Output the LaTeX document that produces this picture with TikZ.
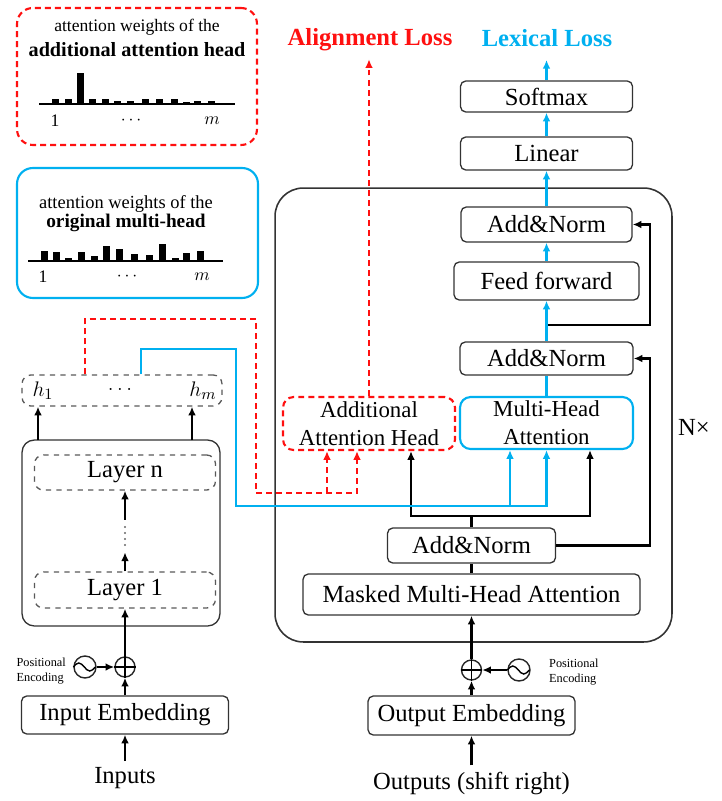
\documentclass[tikz,border=0pt]{standalone}
\usepackage{fontspec}
\setmainfont{Liberation Serif}
\usetikzlibrary{arrows.meta}
\definecolor{lexblue}{RGB}{0,176,240}
\definecolor{alnred}{RGB}{255,16,16}

\begin{document}
\begin{tikzpicture}[x=0.02cm,y=-0.02cm,>={Latex[length=5pt,width=4.4pt]},
  box/.style={draw=black!80,line width=0.75pt,rounded corners=3pt,inner sep=0pt,align=center,font=\fontsize{14}{16}\selectfont},
  dbox/.style={box,draw=black!65,dashed,rounded corners=5pt},
  sumnode/.style={draw=black!85,circle,line width=0.8pt,minimum size=0.4cm,inner sep=0pt},
  wavenode/.style={draw=black!85,circle,line width=0.8pt,minimum size=0.44cm,inner sep=0pt},
  wire/.style={line width=1.3pt},
  bluewire/.style={line width=1.2pt,draw=lexblue},
  redwire/.style={line width=1.2pt,draw=alnred,dash pattern=on 3.4pt off 2.3pt},
  small/.style={font=\fontsize{7}{8.5}\selectfont,align=left},
  label/.style={font=\fontsize{14}{16}\selectfont}]

\useasboundingbox (0,0) rectangle (721,801);

% Legend of the additional head
\node[draw=alnred,line width=1.2pt,dash pattern=on 3.4pt off 2.3pt,rounded corners=9pt,minimum width=4.8cm,minimum height=2.74cm] (legred) at (137,76.5) {};
\node[font=\fontsize{10}{12}\selectfont] (legredA) at (137,27) {attention weights of the};
\node[font=\fontsize{11.5}{13}\selectfont\bfseries] (legredB) at (137,50) {additional attention head};
\draw[line width=1.2pt] (39,104) -- (235,104);
\foreach \a/\h in {52/5,65/5,77/31,89/5,102/5,114/3.5,127/3.5,142/5,156/5,171/5,183/2,194/3.5,208/3.5}
  \fill (\a,104) rectangle ({\a+6.5},{104-\h});
\node[font=\fontsize{10}{12}\selectfont] (redone) at (55,121) {1};
\node[font=\fontsize{10}{12}\selectfont] (reddots) at (131,121) {$\cdots$};
\node[font=\fontsize{10}{12}\selectfont] (redm) at (212,121) {$m$};

% Legend of the original heads
\node[draw=lexblue,line width=1.2pt,rounded corners=9pt,minimum width=4.82cm,minimum height=2.6cm] (legblue) at (137.5,233) {};
\node[font=\fontsize{10.5}{12}\selectfont] (legblueA) at (126,204) {attention weights of the};
\node[font=\fontsize{11}{13}\selectfont\bfseries] (legblueB) at (126,223) {original multi-head};
\draw[line width=1.2pt] (28,260.7) -- (223,260.7);
\foreach \a/\h in {41/9.3,53/9,65/2.3,78/8.7,91/4.7,103/14.7,116/12,131/6.3,146/5.7,159/16.7,172/2.3,183/7.3,197/10}
  \fill (\a,260.7) rectangle ({\a+6.5},{260.7-\h});
\node[font=\fontsize{10}{12}\selectfont] (blueone) at (43,277) {1};
\node[font=\fontsize{10}{12}\selectfont] (bluedots) at (127,277) {$\cdots$};
\node[font=\fontsize{10}{12}\selectfont] (bluem) at (202,277) {$m$};

% Encoder
\node[box,rounded corners=7pt,minimum width=3.96cm,minimum height=3.72cm] (enc) at (121,533) {};
\node[dbox,minimum width=3.62cm,minimum height=0.7cm] (layern) at (125,472.5) {Layer n};
\node[inner sep=0pt,minimum height=0.64cm,minimum width=0.1cm] (vdots) at (125,536) {};
\foreach \y in {527,533,539,545}
  \fill[black!60] (125,\y) circle (0.6pt);
\node[dbox,minimum width=3.62cm,minimum height=0.72cm] (layerone) at (125,590) {Layer 1};
\node[dbox,minimum width=4cm,minimum height=0.62cm] (hbox) at (122,390.5) {};
\node[font=\fontsize{13}{15}\selectfont] (hone) at (43,391) {$h_1$};
\node[font=\fontsize{13}{15}\selectfont] (hdots) at (120,389) {$\ldots$};
\node[font=\fontsize{13}{15}\selectfont] (hm) at (203,391) {$h_m$};
\coordinate (hl) at (38,440);
\coordinate (hr) at (192,440);
\draw[wire,->] (hl) -- (hl |- hbox.south);
\draw[wire,->] (hr) -- (hr |- hbox.south);

% Encoder input
\node[box,minimum width=4.14cm,minimum height=0.76cm] (inemb) at (125,715) {Input Embedding};
\node[sumnode] (insum) at (125,667) {};
\draw[line width=0.8pt] (insum.north) -- (insum.south) (insum.west) -- (insum.east);
\node[wavenode] (inpe) at (85,667) {};
\draw[line width=0.8pt] (inpe.west) sin ++(5.5,-4) cos ++(5.5,4) sin ++(5.5,4) cos ++(5.5,-4);
\node[small,anchor=east] (inpetxt) at (72,671) {Positional\\Encoding};
\node[label] (inputs) at (125,778) {Inputs};
\draw[wire,->] (inpe.east) -- (insum.west);
\draw[wire,->] (inputs.north) -- (inemb.south);
\draw[wire,->] (inemb.north) -- (insum.south);
\draw[wire,->] (insum.north) -- (layerone.south);
\draw[wire,->] (layerone.north) -- (vdots.south);
\draw[wire,->] (vdots.north) -- (layern.south);

% Decoder
\node[box,rounded corners=16pt,line width=0.9pt,minimum width=7.94cm,minimum height=9.08cm] (dec) at (473.5,415) {};
\node[label] (nx) at (694,427) {N×};
\node[box,minimum width=6.74cm,minimum height=0.82cm] (mmha) at (471.5,594.5) {Masked Multi-Head Attention};
\node[box,minimum width=3.36cm,minimum height=0.7cm] (anone) at (471.5,545.5) {Add\&Norm};
\node[box,draw=alnred,line width=1.2pt,dash pattern=on 3.4pt off 2.3pt,rounded corners=6pt,minimum width=3.44cm,minimum height=1.06cm,font=\fontsize{13}{16}\selectfont] (aah) at (369,423.5) {Additional\\Attention Head};
\node[box,draw=lexblue,line width=1.2pt,rounded corners=6pt,minimum width=3.46cm,minimum height=1.04cm,font=\fontsize{13}{16}\selectfont] (mha) at (546.5,423) {Multi-Head\\Attention};
\node[box,minimum width=3.46cm,minimum height=0.66cm] (antwo) at (546.5,358.5) {Add\&Norm};
\node[box,minimum width=3.7cm,minimum height=0.76cm] (ff) at (546.5,281) {Feed forward};
\node[box,minimum width=3.42cm,minimum height=0.7cm] (anthree) at (546.5,224.5) {Add\&Norm};
\node[box,minimum width=3.44cm,minimum height=0.66cm] (lin) at (546.5,153.5) {Linear};
\node[box,minimum width=3.44cm,minimum height=0.62cm] (soft) at (546.5,96.5) {Softmax};
\node[label,font=\fontsize{14}{16}\selectfont\bfseries,text=lexblue] (lexloss) at (547,38) {Lexical Loss};
\node[label,font=\fontsize{14}{16}\selectfont\bfseries,text=alnred] (alnloss) at (370,40) {Alignment Loss};

% Decoder connectors
\coordinate (bus) at (471.5,516);
\coordinate (busl) at (411,516);
\coordinate (busr) at (590,516);
\coordinate (resone) at (650,545.5);
\coordinate (ffsplit) at (546.5,325);
\coordinate (restwo) at (650,325);
\draw[wire] (mmha.north) -- (anone.south);
\draw[wire] (anone.north) -- (bus);
\draw[wire,->] (bus) -| (aah.south -| busl);
\draw[wire,->] (bus) -| (mha.south -| busr);
\draw[wire,->] (anone.east) -- (resone) |- (antwo.east);
\draw[wire,->] (ffsplit) -- (restwo) |- (anthree.east);
\draw[bluewire] (mha.north) -- (antwo.south);
\draw[bluewire,->] (antwo.north) -- (ff.south);
\draw[bluewire,->] (ff.north) -- (anthree.south);
\draw[bluewire,->] (anthree.north) -- (lin.south);
\draw[bluewire,->] (lin.north) -- (soft.south);
\draw[bluewire,->,shorten >=4pt] (soft.north) -- (soft.north |- lexloss.south);
\draw[redwire,->,shorten >=1pt] (aah.north) -- (aah.north |- alnloss.south);

% Encoder states to the heads
\coordinate (redup) at (85,319);
\coordinate (redmid) at (256,493);
\coordinate (redl) at (327,493);
\coordinate (redr) at (357,493);
\coordinate (blueup) at (141,349);
\coordinate (bluemid) at (236,506);
\coordinate (bluel) at (510,506);
\coordinate (bluer) at (546.5,506);
\draw[redwire,->] (hbox.north -| redup) -- (redup) -| (redmid) -| (aah.south -| redr);
\draw[redwire,->] (redl) -- (aah.south -| redl);
\draw[bluewire,->] (hbox.north -| blueup) -- (blueup) -| (bluemid) -| (mha.south -| bluer);
\draw[bluewire,->] (bluel) -- (mha.south -| bluel);

% Decoder input
\node[sumnode] (outsum) at (471.5,670) {};
\draw[line width=0.8pt] (outsum.north) -- (outsum.south) (outsum.west) -- (outsum.east);
\node[wavenode] (outpe) at (519,670) {};
\draw[line width=0.8pt] (outpe.west) sin ++(5.5,-4) cos ++(5.5,4) sin ++(5.5,4) cos ++(5.5,-4);
\node[small,anchor=west] (outpetxt) at (543,672) {Positional\\Encoding};
\node[box,minimum width=4.14cm,minimum height=0.78cm] (outemb) at (471.5,715.5) {Output Embedding};
\node[label] (outputs) at (471.5,783) {Outputs (shift right)};
\draw[wire,->] (outpe.west) -- (outsum.east);
\draw[wire,->] (outputs.north) -- (outemb.south);
\draw[wire,->] (outemb.north) -- (outsum.south);
\draw[wire,->] (outsum.north) -- (mmha.south);

\end{tikzpicture}
\end{document}
